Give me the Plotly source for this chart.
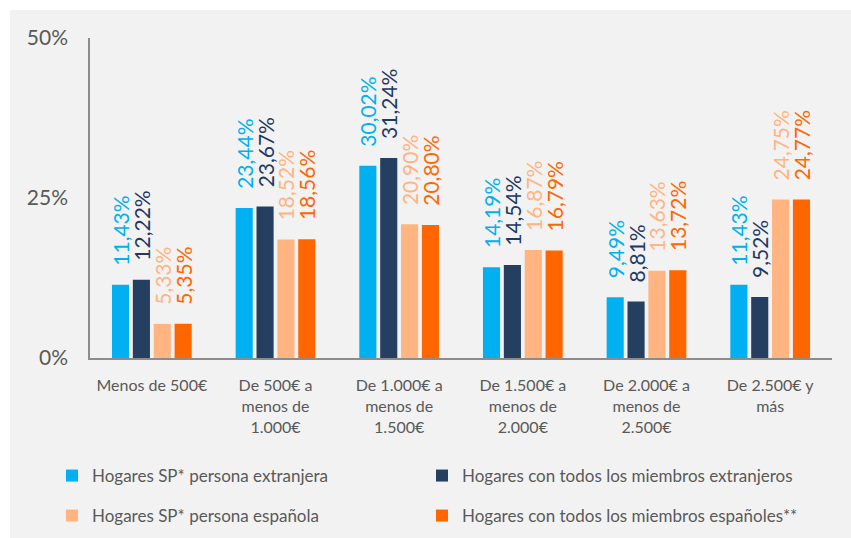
import plotly.graph_objects as go

categories = ["Menos de 500€", "De 500€ a<br>menos de<br>1.000€", "De 1.000€ a<br>menos de<br>1.500€",
              "De 1.500€ a<br>menos de<br>2.000€", "De 2.000€ a<br>menos de<br>2.500€", "De 2.500€ y<br>más"]
series_names = ["Hogares SP* persona extranjera", "Hogares con todos los miembros extranjeros",
                "Hogares SP* persona española", "Hogares con todos los miembros españoles**"]
sp_extranjera = [11.43, 23.44, 30.02, 14.19, 9.49, 11.43]
todos_extranjeros = [12.22, 23.67, 31.24, 14.54, 8.81, 9.52]
sp_espanola = [5.33, 18.52, 20.90, 16.87, 13.63, 24.75]
todos_espanoles = [5.35, 18.56, 20.80, 16.79, 13.72, 24.77]
y_ticks = [0, 25, 50]
y_tick_labels = ["0%", "25%", "50%"]

series_values = [sp_extranjera, todos_extranjeros, sp_espanola, todos_espanoles]
bar_colors = ["#00B0F0", "#243F60", "#FFB482", "#FF6600"]
text_colors = ["#00B0F0", "#1F3864", "#FFB482", "#FF6600"]
legend_ids = ["legend", "legend2", "legend3", "legend4"]

FONT = "Lato"
fig = go.Figure()
for name, vals, bc, tc, lg in zip(series_names, series_values, bar_colors, text_colors, legend_ids):
    fig.add_trace(go.Bar(
        x=categories, y=vals, name=name,
        marker=dict(color=bc, line=dict(width=0)),
        text=["\u00a0\u00a0\u00a0" + f"{v:.2f}".replace(".", ",") + "%" for v in vals],
        textposition="outside", textangle=-90, constraintext="none", cliponaxis=False,
        outsidetextfont=dict(family=FONT, size=21, color=tc),
        legend=lg, hoverinfo="skip",
    ))

W, H = 851, 538
ml, mr, mt, mb = 90, 19, 38, 180
pw, ph = W - ml - mr, H - mt - mb

def px_x(p):
    return (p - ml) / pw

def px_y(p):
    return (H - mb - p) / ph

legend_font = dict(family=FONT, size=17, color="#595959")
legend_pos = [(52, 476), (422, 476), (52, 516), (422, 516)]
legends = {}
for lg, (lx, ly) in zip(legend_ids, legend_pos):
    legends[lg] = dict(orientation="h", x=px_x(lx), xanchor="left", y=px_y(ly), yanchor="middle",
                       bgcolor="rgba(0,0,0,0)", font=legend_font)

fig.update_layout(
    width=W, height=H,
    margin=dict(l=ml, r=mr, t=mt, b=mb, pad=0, autoexpand=False),
    paper_bgcolor="white", plot_bgcolor="rgba(0,0,0,0)",
    barmode="group", bargap=0.325, bargroupgap=0.18,
    font=dict(family=FONT, color="#595959"),
    xaxis=dict(showline=True, linecolor="#8c8c8c", linewidth=1.5, ticks="", showgrid=False,
               tickfont=dict(family=FONT, size=16, color="#595959"), ticklabelstandoff=12),
    yaxis=dict(range=[0, 50], tickvals=y_ticks, ticktext=y_tick_labels, showline=True,
               linecolor="#8c8c8c", linewidth=1.5, ticks="", showgrid=False, zeroline=False,
               tickfont=dict(family=FONT, size=21, color="#595959"), ticklabelstandoff=16),
    shapes=[dict(type="rect", xref="paper", yref="paper", x0=px_x(10), x1=px_x(W), y0=px_y(H), y1=px_y(10),
                 fillcolor="#F2F2F2", line=dict(width=0), layer="below")],
    showlegend=True,
    **legends,
)

fig.write_html("out.html", config={"displayModeBar": False},
               post_script="document.body.style.margin='0';document.body.style.overflow='hidden';")
